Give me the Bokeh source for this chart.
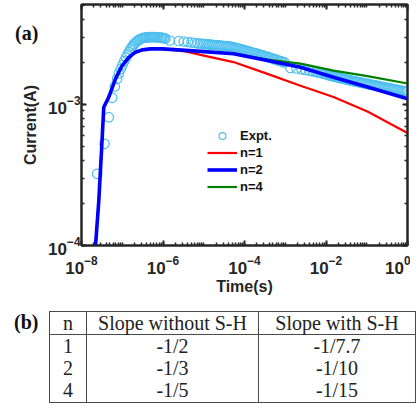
from bokeh.plotting import figure
from bokeh.models import (LogAxis, FixedTicker, Legend, LegendItem, Range1d,
                          CustomJSTickFormatter, Div)
from bokeh.layouts import column
from bokeh.embed import file_html
from bokeh.resources import INLINE

# ---------------- data ----------------
# Experimental data: time (s) and current (A)
expt_t = [2.428e-8, 3.667e-8, 4.675e-8, 5.668e-8, 6.565e-8, 7.516e-8, 8.227e-8, 9.163e-8,
          1.014e-7, 1.123e-7, 1.236e-7, 1.345e-7, 1.464e-7, 1.576e-7, 1.687e-7, 1.815e-7,
          1.953e-7, 2.114e-7, 2.301e-7, 2.505e-7, 2.726e-7, 2.968e-7, 3.230e-7, 3.516e-7,
          3.826e-7, 4.165e-7, 4.533e-7, 4.934e-7, 5.371e-7, 5.845e-7, 6.362e-7, 6.925e-7,
          7.537e-7, 8.204e-7, 8.930e-7, 9.720e-7, 1.058e-6, 1.151e-6,
          1.469e-6, 2.442e-6, 3.239e-6, 4.061e-6, 5.004e-6, 5.929e-6, 7.024e-6, 8.091e-6,
          9.318e-6, 1.043e-5, 1.168e-5,
          1.308e-5, 1.464e-5, 1.640e-5, 1.836e-5, 2.055e-5, 2.301e-5, 2.577e-5, 2.885e-5,
          3.230e-5, 3.616e-5, 4.048e-5, 4.533e-5, 5.075e-5, 5.682e-5, 6.361e-5, 7.122e-5,
          7.974e-5, 8.927e-5, 9.995e-5, 1.119e-4, 1.253e-4, 1.403e-4, 1.571e-4, 1.758e-4,
          1.969e-4, 2.204e-4, 2.468e-4, 2.763e-4, 3.093e-4, 3.463e-4, 3.878e-4, 4.341e-4,
          4.861e-4, 5.442e-4, 6.093e-4, 6.821e-4, 7.637e-4, 8.551e-4, 9.573e-4,
          1.345e-3, 1.888e-3, 2.505e-3, 3.140e-3, 3.936e-3, 4.663e-3, 5.525e-3, 6.364e-3,
          7.328e-3,
          8.206e-3, 9.188e-3, 1.029e-2, 1.152e-2, 1.290e-2, 1.444e-2, 1.617e-2, 1.810e-2,
          2.027e-2, 2.269e-2, 2.541e-2, 2.845e-2, 3.185e-2, 3.566e-2, 3.992e-2, 4.470e-2,
          5.004e-2, 5.603e-2, 6.273e-2, 7.023e-2, 7.863e-2, 8.803e-2, 9.856e-2, 0.1103,
          0.1235, 0.1383, 0.1549, 0.1734, 0.1941, 0.2174, 0.2434, 0.2725, 0.3051, 0.3416,
          0.3824, 0.4282, 0.4794, 0.5367, 0.6009, 0.6728, 0.7532, 0.8433, 0.9442, 1.0]
expt_i = [3.225e-4, 5.264e-4, 8.127e-4, 1.116e-3, 1.342e-3, 1.522e-3, 1.659e-3, 1.786e-3,
          1.906e-3, 2.035e-3, 2.154e-3, 2.263e-3, 2.357e-3, 2.447e-3, 2.528e-3, 2.608e-3,
          2.682e-3, 2.753e-3, 2.812e-3, 2.863e-3, 2.905e-3, 2.939e-3, 2.963e-3, 2.977e-3,
          2.987e-3, 2.997e-3, 3.002e-3, 3.007e-3, 3.007e-3, 3.007e-3, 3.007e-3, 3.002e-3,
          2.997e-3, 2.987e-3, 2.977e-3, 2.968e-3, 2.953e-3, 2.939e-3,
          2.844e-3, 2.821e-3, 2.798e-3, 2.775e-3, 2.753e-3, 2.730e-3, 2.717e-3, 2.708e-3,
          2.695e-3, 2.686e-3, 2.678e-3,
          2.669e-3, 2.661e-3, 2.652e-3, 2.643e-3, 2.635e-3, 2.626e-3, 2.617e-3, 2.609e-3,
          2.600e-3, 2.592e-3, 2.583e-3, 2.575e-3, 2.554e-3, 2.533e-3, 2.512e-3, 2.492e-3,
          2.467e-3, 2.447e-3, 2.427e-3, 2.403e-3, 2.384e-3, 2.360e-3, 2.337e-3, 2.318e-3,
          2.296e-3, 2.274e-3, 2.252e-3, 2.233e-3, 2.211e-3, 2.190e-3, 2.165e-3, 2.144e-3,
          2.120e-3, 2.099e-3, 2.075e-3, 2.052e-3, 2.032e-3, 2.009e-3, 1.987e-3,
          1.815e-3, 1.800e-3, 1.777e-3, 1.757e-3, 1.737e-3, 1.720e-3, 1.703e-3, 1.687e-3,
          1.673e-3,
          1.659e-3, 1.646e-3, 1.632e-3, 1.616e-3, 1.603e-3, 1.590e-3, 1.577e-3, 1.564e-3,
          1.552e-3, 1.539e-3, 1.529e-3, 1.517e-3, 1.504e-3, 1.494e-3, 1.482e-3, 1.473e-3,
          1.461e-3, 1.451e-3, 1.442e-3, 1.432e-3, 1.423e-3, 1.414e-3, 1.405e-3, 1.395e-3,
          1.386e-3, 1.377e-3, 1.368e-3, 1.359e-3, 1.351e-3, 1.342e-3, 1.333e-3, 1.324e-3,
          1.316e-3, 1.307e-3, 1.299e-3, 1.290e-3, 1.282e-3, 1.273e-3, 1.265e-3, 1.257e-3,
          1.251e-3, 1.245e-3, 1.239e-3, 1.237e-3]

# Model curves: common rising part, then separate tails
rise_t = [2.21e-8, 2.66e-8, 3.10e-8, 3.52e-8, 4.68e-8, 6.82e-8, 9.97e-8, 1.45e-7,
          2.11e-7, 3.09e-7, 4.93e-7, 9.55e-7]
rise_i = [1.00e-4, 2.08e-4, 4.72e-4, 9.57e-4, 1.13e-3, 1.52e-3, 1.89e-3, 2.16e-3,
          2.35e-3, 2.44e-3, 2.48e-3, 2.48e-3]
tail_t = [3.56e-6, 8.32e-6, 5.37e-5, 3.66e-4, 2.37e-3, 1.53e-2, 1.04e-1, 1.0]
n1_tail_i = [2.38e-3, 2.25e-3, 2.00e-3, 1.65e-3, 1.36e-3, 1.13e-3, 8.92e-4, 6.28e-4]
n2_tail_i = [2.42e-3, 2.38e-3, 2.29e-3, 2.05e-3, 1.84e-3, 1.56e-3, 1.33e-3, 1.10e-3]
n4_tail_i = [2.42e-3, 2.38e-3, 2.30e-3, 2.08e-3, 1.95e-3, 1.74e-3, 1.59e-3, 1.41e-3]

x_ticks = [1e-8, 1e-6, 1e-4, 1e-2, 1e0]
y_ticks = [1e-4, 1e-3]

# Table (b)
tab_header = ["n", "Slope without S-H", "Slope with S-H"]
tab_n = ["1", "2", "4"]
tab_without = ["-1/2", "-1/3", "-1/5"]
tab_with = ["-1/7.7", "-1/10", "-1/15"]

# ---------------- figure (a) ----------------
AX = "#262626"
SANS = "Liberation Sans"
SERIF = "Liberation Serif"

x_minor = [k * 10.0 ** e for e in range(-8, 0) for k in range(1, 10)] + [1.0]
y_minor = [k * 10.0 ** e for e in range(-4, -2) for k in range(1, 10)]

p = figure(frame_width=326, frame_height=241, x_axis_type="log", y_axis_type="log",
           x_range=Range1d(1e-8, 1.0), y_range=Range1d(1e-4, 5.12e-3),
           output_backend="svg", toolbar_location=None,
           min_border_left=81, min_border_right=3, min_border_top=4, min_border_bottom=60)
p.grid.visible = False
p.outline_line_color = AX
p.outline_line_width = 2
p.background_fill_color = "white"
p.border_fill_color = "white"


def style_axis(ax):
    ax.axis_line_color = AX
    ax.axis_line_width = 2
    ax.major_tick_line_color = AX
    ax.minor_tick_line_color = AX
    ax.major_tick_line_width = 2
    ax.minor_tick_line_width = 1.5
    ax.major_tick_in = 5
    ax.major_tick_out = 0
    ax.minor_tick_in = 3
    ax.minor_tick_out = 0
    ax.major_label_text_font = SANS
    ax.major_label_text_font_style = "bold"
    ax.major_label_text_font_size = "17px"
    ax.major_label_text_color = AX
    ax.axis_label_text_font = SANS
    ax.axis_label_text_font_style = "bold"
    ax.axis_label_text_font_size = "16px"
    ax.axis_label_text_color = AX


xa = p.xaxis[0]
ya = p.yaxis[0]
xa.ticker = FixedTicker(ticks=x_ticks, minor_ticks=x_minor)
ya.ticker = FixedTicker(ticks=y_ticks, minor_ticks=y_minor)
style_axis(xa)
style_axis(ya)
xa.axis_label = "Time(s)"
ya.axis_label = "Current(A)"
xa.major_label_standoff = 10
xa.axis_label_standoff = 1
ya.major_label_standoff = 1
ya.axis_label_standoff = 6

empty = CustomJSTickFormatter(code="return ''")
top = LogAxis(ticker=FixedTicker(ticks=x_ticks, minor_ticks=x_minor), formatter=empty)
right = LogAxis(ticker=FixedTicker(ticks=y_ticks, minor_ticks=y_minor), formatter=empty)
for ax in (top, right):
    style_axis(ax)
    ax.major_label_standoff = 0
    ax.axis_label_standoff = 0
    ax.major_label_text_font_size = "1px"
p.add_layout(top, "above")
p.add_layout(right, "right")

r_expt = p.scatter(expt_t, expt_i, marker="circle", size=9.5, fill_color=None,
                   line_color="#4DBEEE", line_width=1.2)
r1 = p.line(rise_t + tail_t, rise_i + n1_tail_i, line_color="#FF0000", line_width=2.2)
r4 = p.line(rise_t + tail_t, rise_i + n4_tail_i, line_color="#008000", line_width=2.2)
r2 = p.line(rise_t + tail_t, rise_i + n2_tail_i, line_color="#0000FF", line_width=3.6)

legend = Legend(items=[LegendItem(label="Expt.", renderers=[r_expt]),
                       LegendItem(label="n=1", renderers=[r1]),
                       LegendItem(label="n=2", renderers=[r2]),
                       LegendItem(label="n=4", renderers=[r4])],
                location=(126, 50))
legend.border_line_color = None
legend.background_fill_alpha = 0
legend.padding = 0
legend.spacing = 0
legend.margin = 0
legend.glyph_width = 30
legend.glyph_height = 17
legend.label_height = 17
legend.label_standoff = 3
legend.label_text_font = SANS
legend.label_text_font_style = "bold"
legend.label_text_font_size = "13px"
legend.label_text_color = "#111111"
p.add_layout(legend)

# panel tag "(a)" as an overlay block
tag_a = Div(text=f'<span style="font-family:\'{SERIF}\';font-weight:bold;font-size:20px;'
                 f'color:#111;line-height:24px;">(a)</span>',
            width=30, height=24, margin=0,
            styles={"position": "absolute", "left": "15px", "top": "21px", "z-index": "5"})

# ---------------- table (b) as an HTML block ----------------
TW, TH = 418, 100
LINE = "1.2px solid #4a4a4a"
col_w = [37, 172, 157]
td = ("padding:0;text-align:center;vertical-align:middle;white-space:nowrap;"
      f"border-left:{LINE};border-right:{LINE};")


def row_html(cells, height, extra=""):
    tds = "".join(f'<td style="{td}height:{height}px;line-height:{height}px;">{c}</td>'
                  for c in cells)
    return f'<tr style="{extra}">{tds}</tr>'


rows = [row_html(tab_header, 22, f"border-bottom:{LINE};")]
for a, b, c in zip(tab_n, tab_without, tab_with):
    rows.append(row_html([a, b, c], 22.2))
cols = "".join(f'<col style="width:{w}px">' for w in col_w)
html = (
    f'<div style="position:relative;width:{TW}px;height:{TH}px;background:white;">'
    f'<div style="position:absolute;left:14px;top:5px;font-family:\'{SERIF}\';'
    f'font-weight:bold;font-size:20px;color:#111;line-height:24px;">(b)</div>'
    f'<table style="position:absolute;left:49px;top:6px;border-collapse:collapse;'
    f'table-layout:fixed;width:{sum(col_w)}px;font-family:\'{SERIF}\';font-size:20px;'
    f'color:#222;border:{LINE};">{cols}{"".join(rows)}</table></div>'
)
tab = Div(text=html, width=TW, height=TH, margin=0)

layout = column(p, tab, tag_a, spacing=0)
open("out.html", "w").write(file_html(layout, INLINE))
